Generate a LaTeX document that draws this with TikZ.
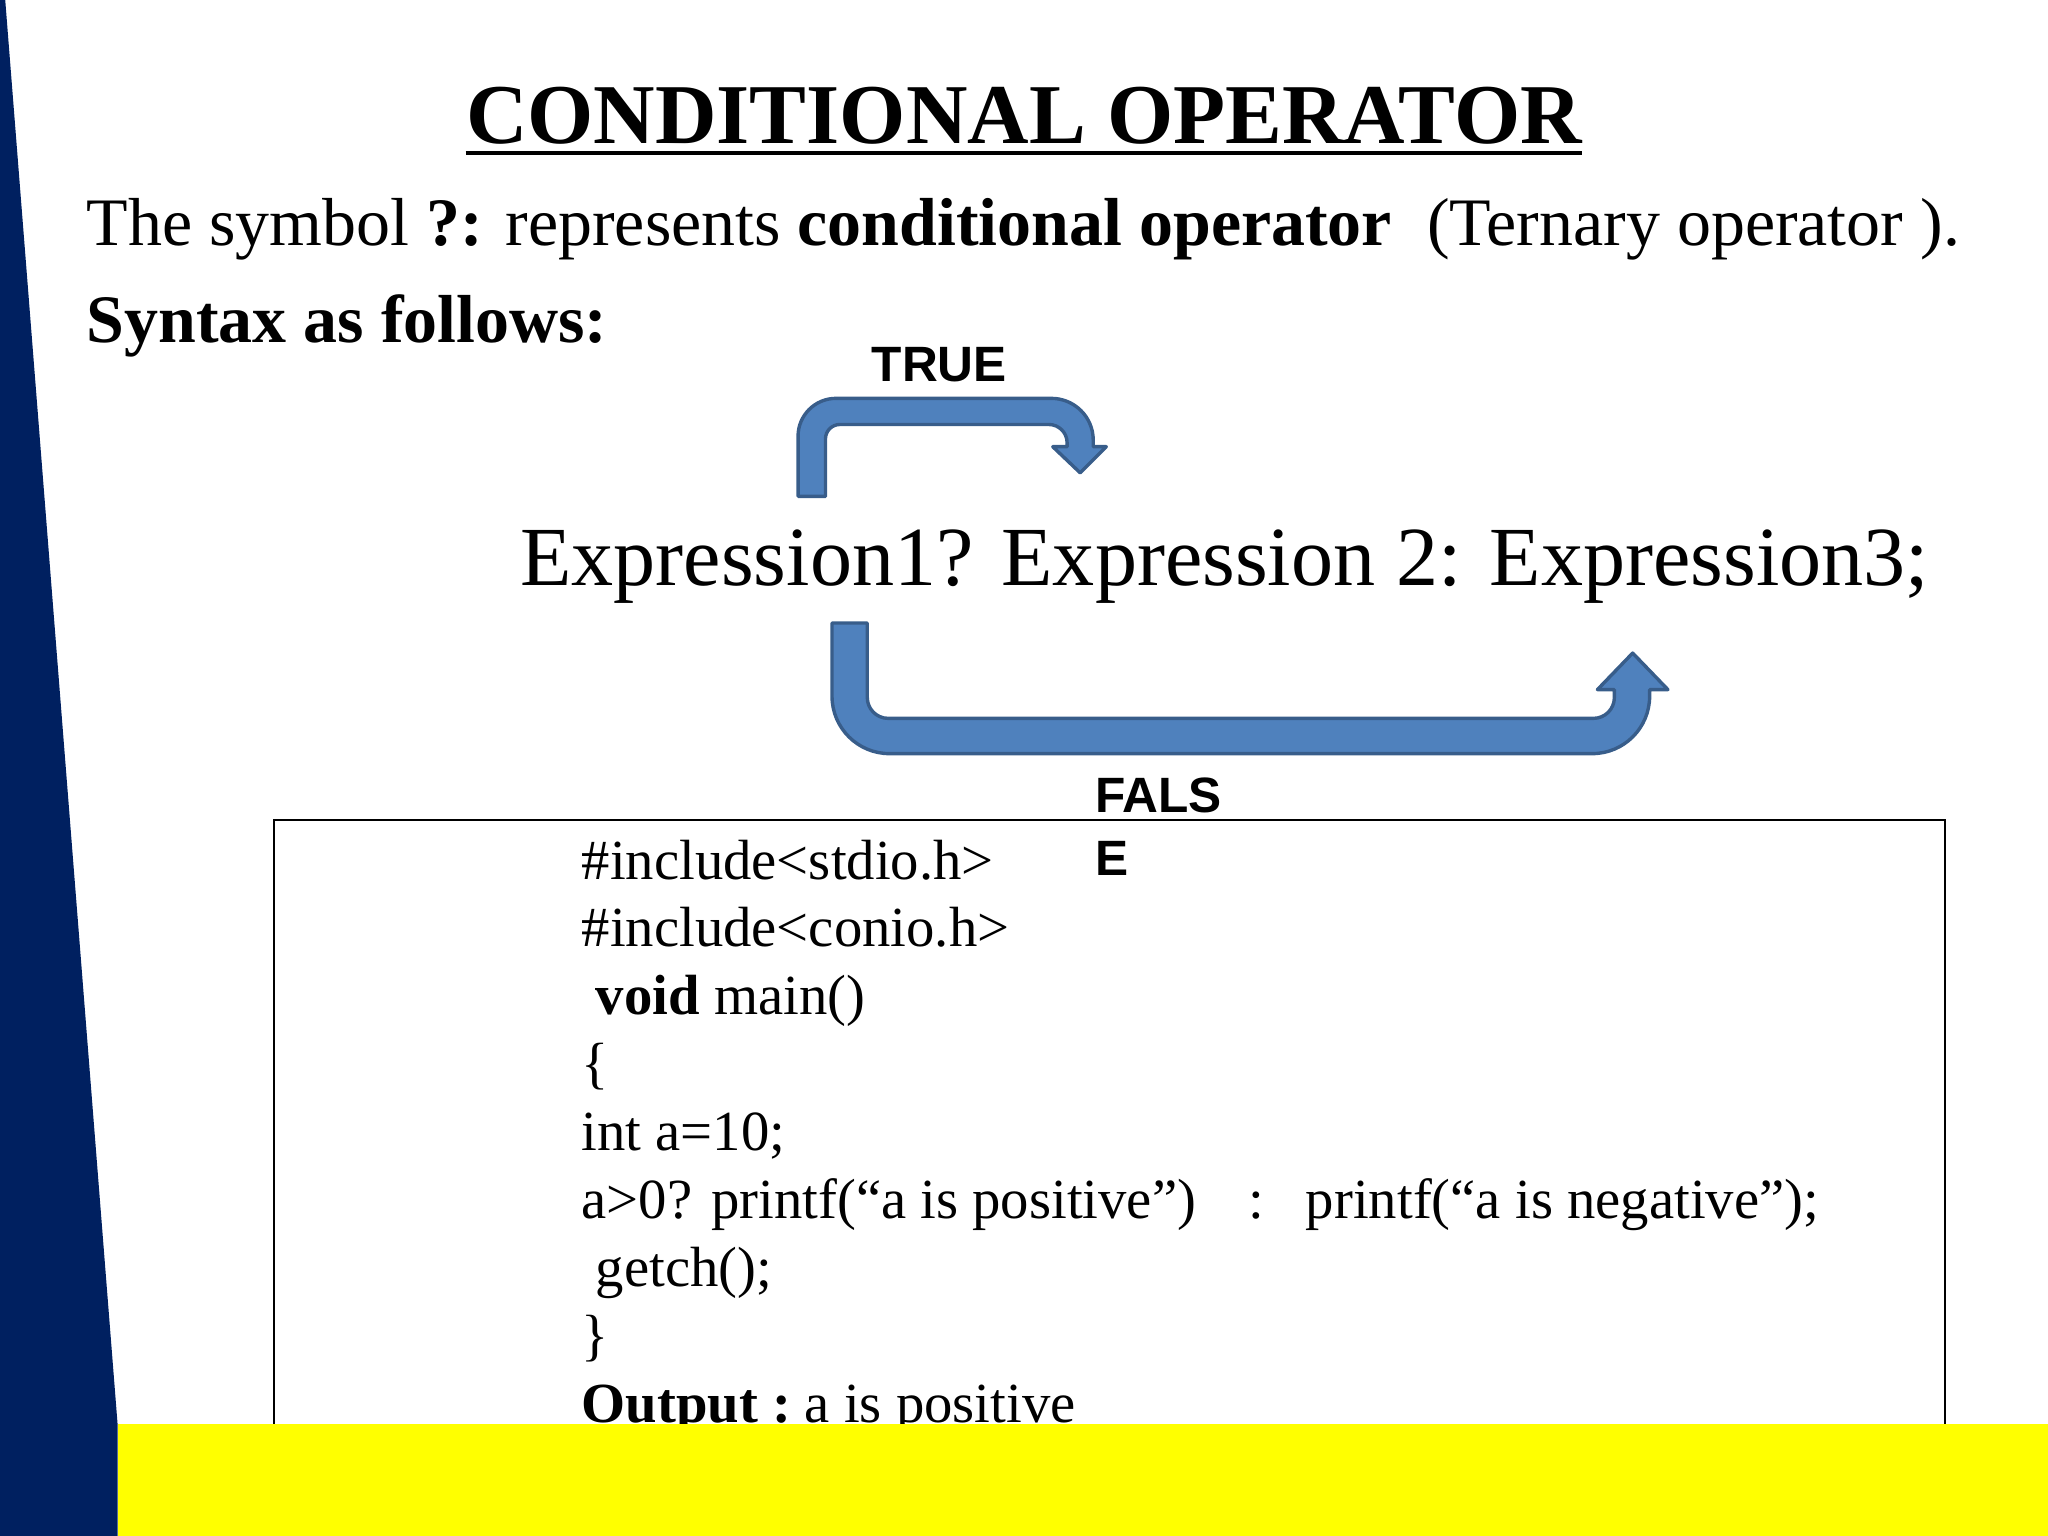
\documentclass[tikz,border=0pt]{standalone}
\usepackage{fontspec}
\setmainfont{Liberation Serif}
\newfontfamily\labelfont{Liberation Sans}
\usetikzlibrary{calc}

\definecolor{slidenavy}{HTML}{002060}
\definecolor{slideyellow}{HTML}{FFFF00}
\definecolor{arrowfill}{HTML}{4F81BD}
\definecolor{arrowline}{HTML}{385D8A}

\tikzset{
	txt/.style={inner sep=0pt, anchor=base west},
	codeline/.style={txt, font=\fontsize{21.7}{26}\selectfont},
	bendarrow/.style={fill=arrowfill, draw=arrowline, line width=1.3pt, line join=round},
	flaglabel/.style={txt, font=\labelfont\bfseries\fontsize{19}{23}\selectfont}
}

\begin{document}
\begin{tikzpicture}[x=0.5pt,y=-0.5pt]
	\def\codeX{445};
	\def\codeY{673};
	\def\codeStep{52};

	\useasboundingbox (0,0) rectangle (1568,1176);

	\begin{scope}
		\node[txt, anchor=base, font=\bfseries\fontsize{32.6}{39}\selectfont] (title) at (784,110) {CONDITIONAL OPERATOR};
		\draw[line width=1.5pt] ($(title.base west)+(0,7)$) -- ($(title.base east)+(0,7)$);
		\node[txt, font=\fontsize{26}{31}\selectfont] (intro) at (66,188) {The symbol \textbf{?:} represents \textbf{conditional operator}\hspace{7pt} (Ternary operator~).};
		\node[txt, font=\bfseries\fontsize{26}{31}\selectfont] (syntax) at (66,262) {Syntax as follows:};
		\node[txt, font=\fontsize{32.2}{39}\selectfont] (expr) at (398,448) {Expression1? Expression 2: Expression3;};
	\end{scope}

	\begin{scope}
		\node[flaglabel] (true) at (667,292) {TRUE};
		\node[flaglabel] (falsA) at (838,622) {FALS};
		\node[flaglabel] (falsB) at (838,670) {E};
	\end{scope}

	\begin{scope}
		\draw[bendarrow] (611,380) -- (611,334) arc[start angle=180, end angle=90, radius=14.5pt]
			-- (805,305) arc[start angle=90, end angle=0, radius=16pt]
			-- (837,342) -- (847,342) -- (827,362) -- (806,342) -- (817,342) -- (817,339)
			arc[start angle=0, end angle=90, radius=7pt]
			-- (643,325) arc[start angle=90, end angle=180, radius=5.5pt]
			-- (632,380) -- cycle;
		\draw[bendarrow] (637,477) -- (637,533) arc[start angle=180, end angle=270, radius=22pt]
			-- (1219,577) arc[start angle=270, end angle=360, radius=22pt]
			-- (1263,528) -- (1277,528) -- (1250,500) -- (1223,528) -- (1236,528) -- (1236,534)
			arc[start angle=0, end angle=-90, radius=8pt]
			-- (680,550) arc[start angle=270, end angle=180, radius=8pt]
			-- (664,477) -- cycle;
	\end{scope}

	\begin{scope}
		\draw[line width=0.8pt] (210,1176) -- (210,628) -- (1489,628) -- (1489,1176);
		\foreach \codetext [count=\i from 0] in {
			{\#include<stdio.h>},
			{\#include<conio.h>},
			{\ \textbf{void} main()},
			{\{},
			{int a=10;},
			{a>0? printf(“a is positive”)\hspace{20pt}:\hspace{16pt}printf(“a is negative”);},
			{\ getch();},
			{\}},
			{\textbf{Output :}\hspace{-2pt} a is positive}}
		{
			\node[codeline] (code\i) at (\codeX,{\codeY+\codeStep*\i}) {\codetext};
		}
	\end{scope}

	\begin{scope}
		\fill[slideyellow] (90,1090) rectangle (1568,1176);
		\fill[slidenavy] (0,0) -- (4,0) -- (90,1090) -- (90,1176) -- (0,1176) -- cycle;
	\end{scope}
\end{tikzpicture}
\end{document}
